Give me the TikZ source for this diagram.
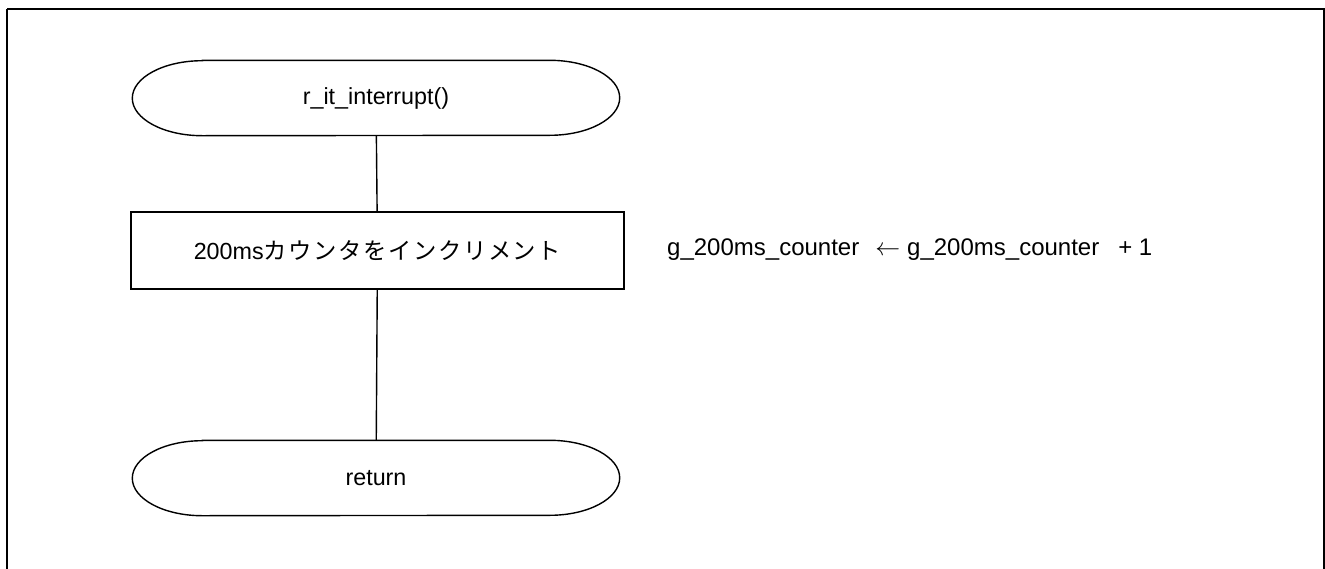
\documentclass[tikz,border=0pt]{standalone}
\usepackage{fontspec}
\setmainfont{Liberation Sans}
\newfontfamily\jpfont[LetterSpace=7]{Noto Sans CJK JP}
\tikzset{
  x=1pt,y=-1pt,
  txt/.style={font=\fontsize{23.3}{28}\selectfont},
  notetxt/.style={font=\fontsize{24}{28}\selectfont},
  termbox/.style={txt,minimum width=487pt,minimum height=75pt,inner sep=0pt},
  procbox/.style={txt,draw,line width=1.4pt,minimum width=493pt,minimum height=77pt,inner sep=0pt},
  conn/.style={line width=1.4pt},
  frame/.style={line width=2.5pt}
}
\newcommand{\termoutline}[1]{%
  \draw[line width=1.4pt] ([xshift=70pt]#1.north west) -- ([xshift=-70pt]#1.north east)
    arc[start angle=90,end angle=-90,x radius=70pt,y radius=37.5pt]
    -- ([xshift=70pt]#1.south west)
    arc[start angle=270,end angle=90,x radius=70pt,y radius=37.5pt] -- cycle;}
\begin{document}
\begin{tikzpicture}
\useasboundingbox (0,0) rectangle (1325,568);
\draw[frame] (7,9) -- (7,575) (7,9) -- (1324,9) -- (1324,575);
\node[termbox] (start) at (376,98) {r\_it\_interrupt()};
\termoutline{start}
\node[procbox] (inc) at (377.5,250.5) {200ms{\jpfont カウンタをインクリメント}};
\node[termbox] (ret) at (376,478) {return};
\termoutline{ret}
\node[notetxt,anchor=west,inner sep=0pt] (note) at (667,250) {g\_200ms\_counter\hspace{16pt}$\leftarrow$\hspace{7pt}g\_200ms\_counter\hspace{19pt}+ 1};
\draw[conn] (start) -- (inc);
\draw[conn] (inc) -- (ret);
\end{tikzpicture}
\end{document}
